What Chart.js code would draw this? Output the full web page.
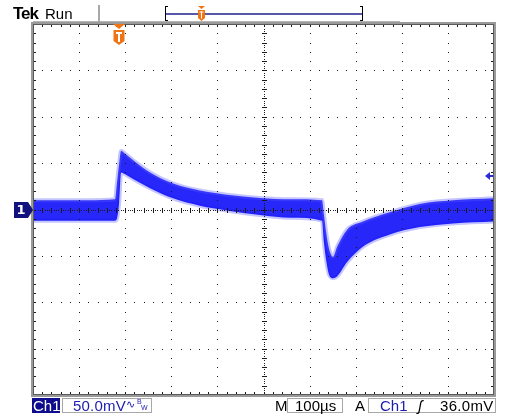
<!DOCTYPE html>
<html><head><meta charset="utf-8">
<script src="https://cdn.jsdelivr.net/npm/chart.js@4"></script>
<style>
html,body{margin:0;padding:0;background:#fff;}
#wrap{position:relative;width:505px;height:419px;overflow:hidden;font-family:"Liberation Sans",Arial,sans-serif;}
canvas{position:absolute;left:0;top:0;}
.t{position:absolute;white-space:nowrap;line-height:1;}
.box{position:absolute;box-sizing:border-box;border:1px solid #a8a8a8;}
</style></head><body>
<div id="wrap">
<canvas id="c" width="505" height="419"></canvas>
<span class="t" style="left:13px;top:5px;font-size:17px;font-weight:bold;letter-spacing:-1px;color:#000">Tek</span>
<span class="t" style="left:45px;top:6px;font-size:15px;color:#000">Run</span>
<div class="box" style="left:32px;top:398px;width:28px;height:15px;background:#0c0c8c;border-color:#0c0c8c"></div>
<span class="t" style="left:33px;top:398px;font-size:15px;color:#fff">Ch1</span>
<div class="box" style="left:62px;top:398px;width:90px;height:15px"></div>
<span class="t" style="left:73px;top:398px;font-size:15px;color:#1c1cb0;letter-spacing:0.2px">50.0mV</span>
<span class="t" style="left:126px;top:399px;font-size:11px;color:#1c1cb0">∿</span>
<span class="t" style="left:137px;top:398px;font-size:7px;color:#1c1cb0">B</span>
<span class="t" style="left:141px;top:404px;font-size:7px;color:#1c1cb0">W</span>
<span class="t" style="left:275px;top:398px;font-size:15px;color:#000">M</span>
<div class="box" style="left:287px;top:398px;width:56px;height:15px"></div>
<span class="t" style="left:295px;top:398px;font-size:15px;color:#000">100µs</span>
<span class="t" style="left:355px;top:398px;font-size:15px;color:#000">A</span>
<div class="box" style="left:368px;top:398px;width:128px;height:15px"></div>
<span class="t" style="left:380px;top:398px;font-size:15px;color:#1c1cb0">Ch1</span>
<span class="t" style="left:418px;top:398px;font-size:15px;font-style:italic;color:#000">ʃ</span>
<span class="t" style="left:440px;top:398px;font-size:15px;color:#000;letter-spacing:0.3px">36.0mV</span>
</div>
<script>
// ---- data (time in µs, voltage in mV) ----
const timesUs = [0, 60, 120, 178, 182, 187, 191, 200, 220, 254, 304, 362, 420, 492, 560, 627, 631, 636, 642, 651, 660, 681, 716, 774, 839, 911, 1000];
const upperMv = [10, 10, 10, 11, 28, 50, 63, 60, 52, 40, 28, 20.5, 16, 12.5, 11, 10, -5, -25, -42, -51, -40, -22, -13, -3, 6, 10, 12];
const lowerMv = [-12, -12, -12, -12, -10, 8, 40, 38, 32, 23, 12, 4, -1, -6, -9, -12, -35, -55, -70, -74, -72, -57, -40, -27, -19, -15, -13];
const xTicksUs = [0, 100, 200, 300, 400, 500, 600, 700, 800, 900, 1000];
const yTicksMv = [-200, -150, -100, -50, 0, 50, 100, 150, 200];
const triggerTimeUs = 187;
const triggerLevelMv = 36;
const channelOffsetMv = 0;

const scopePlugin = {
  id: 'scope',
  afterDatasetsDraw(chart) {
    const {ctx, chartArea: a, scales: {x, y}} = chart;
    ctx.save();
    const xMinorStep = (xTicksUs[1] - xTicksUs[0]) / 5;
    const yMinorStep = (yTicksMv[1] - yTicksMv[0]) / 5;
    const xMin = xTicksUs[0], xMax = xTicksUs[xTicksUs.length - 1];
    const yMin = yTicksMv[0], yMax = yTicksMv[yTicksMv.length - 1];
    const xc = (xMin + xMax) / 2, yc = (yMin + yMax) / 2;
    ctx.fillStyle = '#1a1a1a';
    // dotted major grid
    for (const t of xTicksUs.slice(1, -1)) {
      if (t === xc) continue;
      const px = Math.round(x.getPixelForValue(t));
      for (let v = yMin + yMinorStep; v < yMax; v += yMinorStep) {
        ctx.fillRect(px, Math.round(y.getPixelForValue(v)), 1, 1);
      }
    }
    for (const v of yTicksMv.slice(1, -1)) {
      if (v === yc) continue;
      const py = Math.round(y.getPixelForValue(v));
      for (let t = xMin + xMinorStep; t < xMax; t += xMinorStep) {
        ctx.fillRect(Math.round(x.getPixelForValue(t)), py, 1, 1);
      }
    }
    // center cross
    const cy = Math.round(y.getPixelForValue(yc));
    const cx = Math.round(x.getPixelForValue(xc));
    for (let t = xMin; t < xMax; t += xMinorStep / 4) {
      ctx.fillRect(Math.round(x.getPixelForValue(t)), cy, 1, 1);
    }
    for (let t = xMin + xMinorStep; t < xMax; t += xMinorStep) {
      ctx.fillRect(Math.round(x.getPixelForValue(t)), cy - 2, 1, 5);
    }
    for (let v = yMin; v < yMax; v += yMinorStep / 4) {
      ctx.fillRect(cx, Math.round(y.getPixelForValue(v)), 1, 1);
    }
    for (let v = yMin + yMinorStep; v < yMax; v += yMinorStep) {
      ctx.fillRect(cx - 2, Math.round(y.getPixelForValue(v)), 5, 1);
    }
    // edge ticks
    for (let t = xMin + xMinorStep; t < xMax; t += xMinorStep) {
      const px = Math.round(x.getPixelForValue(t));
      ctx.fillRect(px, a.top, 1, 3);
      ctx.fillRect(px, a.bottom - 3, 1, 3);
    }
    for (let v = yMin + yMinorStep; v < yMax; v += yMinorStep) {
      const py = Math.round(y.getPixelForValue(v));
      ctx.fillRect(a.left, py, 3, 1);
      ctx.fillRect(a.right - 3, py, 3, 1);
    }
    // frame
    ctx.strokeStyle = '#9a9a9a';
    ctx.lineWidth = 2;
    ctx.strokeRect(a.left - 1, a.top - 1, a.right - a.left + 2, a.bottom - a.top + 2);
    ctx.strokeStyle = '#5a5a5a';
    ctx.lineWidth = 1;
    ctx.strokeRect(a.left + 0.5, a.top + 0.5, a.right - a.left - 1, a.bottom - a.top - 1);

    // header lines
    ctx.fillStyle = '#b4b4b4';
    ctx.fillRect(33, 21, 367, 1);
    ctx.fillStyle = '#a8a8a8';
    ctx.fillRect(98, 5, 2, 17);
    // record bar
    ctx.fillStyle = '#5858a8';
    ctx.fillRect(166, 13, 197, 2);
    ctx.fillStyle = '#000';
    ctx.fillRect(165, 6, 1, 15); ctx.fillRect(165, 6, 3, 1); ctx.fillRect(165, 20, 3, 1);
    ctx.fillRect(362, 6, 1, 15); ctx.fillRect(360, 6, 3, 1); ctx.fillRect(360, 20, 3, 1);
    const orange = '#f07414';
    // small T in record bar
    ctx.fillStyle = orange;
    ctx.beginPath(); ctx.moveTo(198, 6); ctx.lineTo(205, 6); ctx.lineTo(201.5, 9); ctx.closePath(); ctx.fill();
    ctx.beginPath(); ctx.moveTo(198, 10); ctx.lineTo(205, 10); ctx.lineTo(205, 18); ctx.lineTo(201.5, 21); ctx.lineTo(198, 18); ctx.closePath(); ctx.fill();
    ctx.fillStyle = '#fff';
    ctx.fillRect(199.5, 11.5, 4, 1); ctx.fillRect(201, 11.5, 1, 7);

    // trigger position marker
    const tx = Math.round(x.getPixelForValue(triggerTimeUs));
    ctx.fillStyle = orange;
    ctx.beginPath(); ctx.moveTo(tx - 6, a.top); ctx.lineTo(tx + 6, a.top); ctx.lineTo(tx, a.top + 5); ctx.closePath(); ctx.fill();
    ctx.beginPath();
    ctx.moveTo(tx - 5.5, a.top + 6); ctx.lineTo(tx + 5.5, a.top + 6); ctx.lineTo(tx + 5.5, a.top + 17);
    ctx.lineTo(tx, a.top + 21); ctx.lineTo(tx - 5.5, a.top + 17); ctx.closePath(); ctx.fill();
    ctx.fillStyle = '#fff';
    ctx.fillRect(tx - 3, a.top + 8, 6, 2); ctx.fillRect(tx - 1, a.top + 8, 2, 10);

    // channel 1 ground marker
    const gy = Math.round(y.getPixelForValue(channelOffsetMv));
    ctx.fillStyle = '#12127e';
    ctx.beginPath();
    ctx.moveTo(14, gy - 8); ctx.lineTo(28, gy - 8); ctx.lineTo(33, gy); ctx.lineTo(28, gy + 8); ctx.lineTo(14, gy + 8); ctx.closePath(); ctx.fill();
    ctx.fillStyle = '#fff';
    ctx.font = 'bold 13px "DejaVu Sans", sans-serif';
    ctx.textAlign = 'center'; ctx.textBaseline = 'middle';
    ctx.fillText('1', 21, gy + 1);

    // trigger level arrow
    const ly = Math.round(y.getPixelForValue(triggerLevelMv));
    ctx.fillStyle = '#2a2ad8';
    ctx.beginPath(); ctx.moveTo(485, ly); ctx.lineTo(490, ly - 4); ctx.lineTo(490, ly + 4); ctx.closePath(); ctx.fill();
    ctx.fillRect(489, ly - 1, 4, 2);
    ctx.restore();
  }
};

const pts = arr => timesUs.map((t, i) => ({x: t, y: arr[i]}));
new Chart(document.getElementById('c'), {
  type: 'line',
  data: {
    datasets: [
      {data: pts(upperMv), fill: '+1', backgroundColor: 'rgba(16,16,250,0.9)', borderColor: 'rgba(90,90,255,0.35)', borderWidth: 4, pointRadius: 0, cubicInterpolationMode: 'monotone'},
      {data: pts(lowerMv), fill: false, borderColor: 'rgba(90,90,255,0.35)', borderWidth: 4, pointRadius: 0, cubicInterpolationMode: 'monotone'}
    ]
  },
  options: {
    responsive: false, animation: false, devicePixelRatio: 1,
    layout: {padding: {left: 33, right: 11, top: 24, bottom: 24}},
    plugins: {legend: {display: false}, tooltip: {enabled: false}},
    scales: {
      x: {type: 'linear', min: xTicksUs[0], max: xTicksUs[xTicksUs.length - 1], display: false},
      y: {type: 'linear', min: yTicksMv[0], max: yTicksMv[yTicksMv.length - 1], display: false}
    }
  },
  plugins: [scopePlugin]
});
</script>
</body></html>
